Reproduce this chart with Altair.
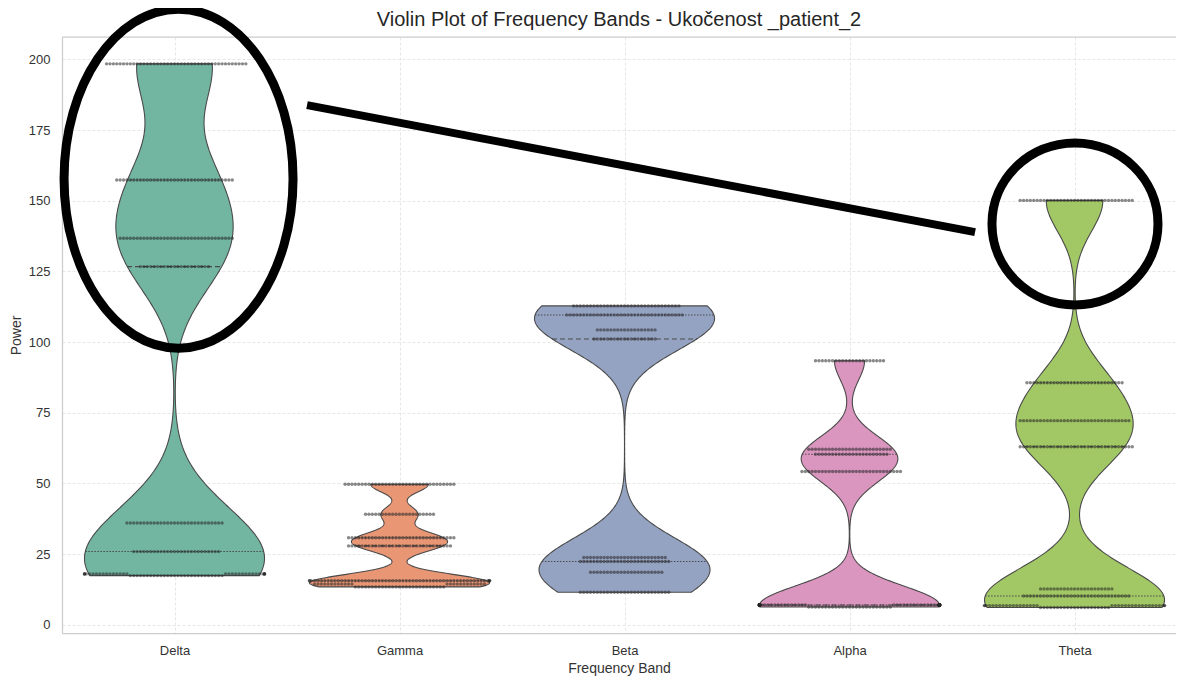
import colorsys
import json

import altair as alt
import numpy as np
import pandas as pd

# ---------------- data ----------------
BANDS = ["Delta", "Gamma", "Beta", "Alpha", "Theta"]

DELTA_VALUES = [17.4, 18.0, 25.9, 36.0, 126.7, 136.7, 157.3, 198.4]
DELTA_COUNTS = [28, 32, 26, 29, 21, 34, 35, 42]
GAMMA_VALUES = [13.4, 14.4, 15.6, 27.9, 30.8, 39.1, 49.7]
GAMMA_COUNTS = [27, 24, 58, 31, 32, 21, 33]
BETA_VALUES = [11.5, 18.6, 22.4, 23.8, 101.1, 104.3, 109.6, 112.8]
BETA_COUNTS = [27, 22, 27, 25, 19, 18, 35, 32]
ALPHA_VALUES = [6.3, 7.0, 54.2, 60.3, 62.1, 93.4]
ALPHA_COUNTS = [25, 101, 30, 22, 25, 21]
THETA_VALUES = [6.1, 6.8, 10.2, 12.7, 63.0, 72.2, 85.6, 150.1]
THETA_COUNTS = [21, 36, 32, 22, 34, 33, 29, 34]

Y_TICKS = [0, 25, 50, 75, 100, 125, 150, 175, 200]
TITLE = "Violin Plot of Frequency Bands - Ukočenost _patient_2"
X_TITLE = "Frequency Band"
Y_TITLE = "Power"

# hand-drawn annotations, anchored in data space (band index, power)
ANNOT_ELLIPSES = [
    {"name": "delta", "x": 0.018, "y": 157.8},
    {"name": "theta", "x": 4.002, "y": 141.8},
]
ANNOT_LINE = [{"x": 0.589, "y": 183.8, "x2": 3.558, "y2": 138.9}]

# ---------------- styling ----------------
PALETTE = ["#66c2a5", "#fc8d62", "#8da0cb", "#e78ac3", "#a6d854"]


def desaturate(hex_color, prop=0.75):
    r, g, b = [int(hex_color[i:i + 2], 16) / 255 for i in (1, 3, 5)]
    h, l, s = colorsys.rgb_to_hls(r, g, b)
    r, g, b = colorsys.hls_to_rgb(h, l, s * prop)
    return "#%02x%02x%02x" % tuple(int(round(c * 255)) for c in (r, g, b))


FILLS = [desaturate(c) for c in PALETTE]
FONT = "Liberation Sans"
TEXT_COLOR = "#333333"
EDGE = "#4a4a4a"
W, H = 1114, 596
BW_FACTOR = 0.22      # kde bandwidth as a fraction of each band's std
HALF_WIDTH = 0.4      # half violin width in band units
DOT_STEP = 0.0151     # swarm dot spacing in band units


def ellipse_path(aspect, k=0.5523):
    a = aspect
    pts = [
        f"M {a:.4f} 0",
        f"C {a:.4f} {k:.4f} {a*k:.4f} 1 0 1",
        f"C {-a*k:.4f} 1 {-a:.4f} {k:.4f} {-a:.4f} 0",
        f"C {-a:.4f} {-k:.4f} {-a*k:.4f} -1 0 -1",
        f"C {a*k:.4f} -1 {a:.4f} {-k:.4f} {a:.4f} 0",
        "Z",
    ]
    return " ".join(pts)


# ---------------- table ----------------
all_values = [DELTA_VALUES, GAMMA_VALUES, BETA_VALUES, ALPHA_VALUES, THETA_VALUES]
all_counts = [DELTA_COUNTS, GAMMA_COUNTS, BETA_COUNTS, ALPHA_COUNTS, THETA_COUNTS]
rows = []
for i, (name, vals, cnts) in enumerate(zip(BANDS, all_values, all_counts)):
    for v, c in zip(vals, cnts):
        rows.extend([{"band": name, "idx": i, "value": v}] * c)
df = pd.DataFrame(rows)

xscale = alt.Scale(domain=[-0.5, 4.451], nice=False, zero=False)
yscale = alt.Scale(domain=[-2.9, 207.9], nice=False, zero=False)
label_expr = json.dumps(BANDS) + "[datum.value]"
XAX = alt.Axis(values=list(range(len(BANDS))), labelExpr=label_expr, title=X_TITLE,
               labelPadding=11, titlePadding=4, grid=True)
YAX = alt.Axis(values=Y_TICKS, title=Y_TITLE, labelPadding=12, titlePadding=5, grid=True)
DASHES = alt.Scale(domain=["q1", "med", "q3"], range=[[1.5, 1.5], [5, 3], [1.5, 1.5]])


def band_layers(i, name):
    vals = np.repeat(all_values[i], all_counts[i])
    bw = BW_FACTOR * float(np.std(vals, ddof=1))
    lo, hi = float(min(all_values[i])), float(max(all_values[i]))
    base = (
        alt.Chart(df)
        .transform_filter(alt.datum.band == name)
        .transform_joinaggregate(q1="q1(value)", med="median(value)", q3="q3(value)")
        .transform_density("value", as_=["val", "dens"], bandwidth=bw, extent=[lo, hi],
                           steps=400, groupby=["idx", "q1", "med", "q3"])
        .transform_joinaggregate(maxd="max(dens)")
        .transform_calculate(hw=f"{HALF_WIDTH} * datum.dens / datum.maxd")
        .transform_calculate(xl="datum.idx - datum.hw", xr="datum.idx + datum.hw")
    )
    area = base.mark_area(orient="horizontal", fill=FILLS[i], stroke=EDGE,
                          strokeWidth=1.1, opacity=1).encode(
        y=alt.Y("val:Q", scale=yscale, axis=YAX),
        x=alt.X("xl:Q", scale=xscale, axis=XAX),
        x2="xr:Q",
    )
    quart = (
        base.transform_fold(["q1", "med", "q3"], as_=["qk", "qv"])
        .transform_calculate(d="abs(datum.val - datum.qv)")
        .transform_joinaggregate(md="min(d)", groupby=["qk"])
        .transform_filter("datum.d == datum.md")
        .mark_rule(color=EDGE, strokeWidth=1.1)
        .encode(
            y=alt.Y("qv:Q", scale=yscale, axis=YAX),
            x=alt.X("xl:Q", scale=xscale, axis=XAX),
            x2="xr:Q",
            strokeDash=alt.StrokeDash("qk:N", scale=DASHES, legend=None),
        )
    )
    return area, quart


areas, quarts = [], []
for i, name in enumerate(BANDS):
    a, q = band_layers(i, name)
    areas.append(a)
    quarts.append(q)

# ---------------- swarm dots ----------------
dots = (
    alt.Chart(df)
    .transform_window(prev="lag(value)", groupby=["band"], sort=[alt.SortField("value")])
    .transform_calculate(isnew="(datum.prev == null || datum.value - datum.prev > 1.1) ? 1 : 0")
    .transform_window(cluster="sum(isnew)", groupby=["band"], sort=[alt.SortField("value")], frame=[None, 0])
    .transform_window(k="row_number()", groupby=["band", "cluster"], sort=[alt.SortField("value")])
    .transform_calculate(off=f"(((datum.k - 1) % 2 == 1) ? 1 : -1) * ceil((datum.k - 1) / 2) * {DOT_STEP}")
    .transform_calculate(xs=f"datum.idx + clamp(datum.off, -{HALF_WIDTH}, {HALF_WIDTH})")
    .mark_circle(size=11.5, color="#262626", opacity=0.55)
    .encode(
        x=alt.X("xs:Q", scale=xscale, axis=XAX),
        y=alt.Y("value:Q", scale=yscale, axis=YAX),
    )
)

one = pd.DataFrame({"k": [0]})

# ---------------- frame top edge ----------------
top_edge = alt.Chart(one).mark_rule(color="#cccccc", strokeWidth=1.25).encode(
    x=alt.value(0), x2=alt.value(W), y=alt.value(0)
)

# ---------------- title (as text, so off-plot annotations do not push it) ----------------
title = alt.Chart(one).mark_text(
    text=TITLE, font=FONT, fontSize=20, color="#262626", align="center", baseline="alphabetic"
).encode(x=alt.value(W / 2), y=alt.value(-11))

# ---------------- annotations ----------------
annot_line = alt.Chart(pd.DataFrame(ANNOT_LINE)).mark_rule(
    color="black", strokeWidth=8, strokeCap="butt"
).encode(
    x=alt.X("x:Q", scale=xscale, axis=XAX), y=alt.Y("y:Q", scale=yscale, axis=YAX),
    x2="x2:Q", y2="y2:Q",
)

ell_df = pd.DataFrame(ANNOT_ELLIPSES)
ell_delta = alt.Chart(ell_df).transform_filter("datum.name == 'delta'").mark_point(
    shape=ellipse_path(114.5 / 169.5), size=(2 * 169.5) ** 2, filled=False,
    stroke="black", strokeWidth=9, opacity=1,
).encode(x=alt.X("x:Q", scale=xscale, axis=XAX), y=alt.Y("y:Q", scale=yscale, axis=YAX))
ell_theta = alt.Chart(ell_df).transform_filter("datum.name == 'theta'").mark_point(
    shape=ellipse_path(83 / 81), size=(2 * 81) ** 2, filled=False,
    stroke="black", strokeWidth=9, opacity=1,
).encode(x=alt.X("x:Q", scale=xscale, axis=XAX), y=alt.Y("y:Q", scale=yscale, axis=YAX))

chart = (
    alt.layer(*areas, *quarts, dots, top_edge, annot_line, ell_delta, ell_theta, title)
    .properties(
        width=W, height=H,
        autosize=alt.AutoSizeParams(type="none"),
        padding={"left": 54, "top": 29, "right": 0, "bottom": 46},
        background="white",
    )
    .configure_view(stroke=None)
    .configure_axis(
        labelFont=FONT, labelFontSize=13, labelColor=TEXT_COLOR,
        titleFont=FONT, titleFontSize=14, titleColor=TEXT_COLOR, titleFontWeight="normal",
        ticks=False, domainColor="#cccccc", domainWidth=1.25,
        gridColor="#e6e6e6", gridDash=[3, 2], gridWidth=1,
    )
)

chart.save("out.html", embed_options={"renderer": "svg", "actions": False})
